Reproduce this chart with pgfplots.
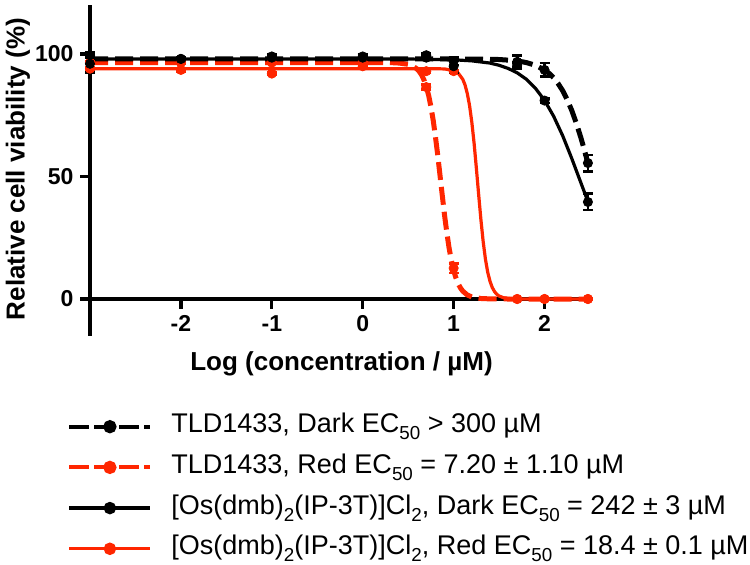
\documentclass[border=0pt]{standalone}
\usepackage{fontspec}
\setmainfont{Liberation Sans}
\usepackage{pgfplots}
\usepackage{pgfplotstable}
\pgfplotsset{compat=1.18}
\definecolor{gpred}{RGB}{255,38,0}
\newcommand\sub[1]{\raisebox{-3.6pt}{\fontsize{9.4}{9.4}\selectfont #1}}

% data points: x = log10(concentration / uM), y = viability, e = error
\pgfplotstableread{
x y e
-3 99.5 1.0
-2 98.0 0.8
-1 99.0 0.8
0 99.0 0.8
0.699 98.5 0.8
1 97.0 1.5
1.699 96.8 2.7
2 93.5 2.8
2.477 55.5 3.3
}\tlddarkpts
\pgfplotstableread{
x y e
-3 96.0 3.5
-2 98.0 0.8
-1 98.5 0.8
0 98.5 0.8
0.699 99.5 0.8
1 95.0 2.5
1.699 95.5 1.0
2 81.0 1.0
2.477 39.6 3.3
}\osdarkpts
\pgfplotstableread{
x y e
-3 96.5 0.5
-2 96.5 0.5
-1 96.5 0.5
0 96.5 0.5
0.699 86.5 1.0
1 12.6 2.0
1.699 0 0.3
2 0 0.3
2.477 0 0.3
}\tldredpts
\pgfplotstableread{
x y e
-3 94.0 0.5
-2 93.5 0.5
-1 92.0 0.5
0 95.0 0.5
0.699 93.0 0.5
1 93.0 0.5
1.699 0 0.3
2 0 0.3
2.477 0 0.3
}\osredpts

% fitted curves
\pgfplotstableread{
x y
-3 98.0
0 98.0
1.0 97.99
1.3 97.9
1.5 97.75
1.6 97.5
1.7 97.2
1.8 96.5
1.9 95.4
2.0 93.5
2.05 92.1
2.1 90.3
2.15 87.9
2.2 85.0
2.25 81.3
2.3 76.9
2.35 71.7
2.4 65.8
2.44 60.6
2.477 55.5
}\tlddarkfit
\pgfplotstableread{
x y
-3 98.0
0 97.99
0.5 97.96
1.0 97.65
1.2 97.2
1.4 96.3
1.5 95.4
1.6 94.1
1.7 92.3
1.8 89.7
1.9 86.0
2.0 81.1
2.1 74.6
2.2 66.6
2.3 57.3
2.4 47.4
2.477 39.8
}\osdarkfit
\pgfplotstableread{
x y
-3 96.5
0 96.5
0.3 96.5
0.4 96.3
0.5 95.8
0.55 95.1
0.6 93.8
0.625 92.7
0.65 91.3
0.675 89.3
0.7 86.5
0.725 83.1
0.75 78.5
0.775 73.0
0.8 66.2
0.825 58.7
0.85 50.5
0.875 42.3
0.9 34.2
0.925 27.1
0.95 20.8
0.975 15.8
1.0 11.7
1.025 8.62
1.05 6.24
1.075 4.53
1.1 3.24
1.15 1.65
1.2 0.83
1.3 0.21
1.4 0.05
1.6 0
2.477 0
}\tldredfit
\pgfplotstableread{
x y
-3 94.0
0.5 94.0
0.8 94.0
0.9 93.9
1.0 93.3
1.05 92.2
1.1 89.7
1.125 87.4
1.15 83.9
1.175 79.0
1.2 72.2
1.225 63.6
1.25 53.4
1.275 42.7
1.3 32.4
1.325 23.4
1.35 16.2
1.375 10.9
1.4 7.22
1.425 4.69
1.45 3.01
1.475 1.92
1.5 1.22
1.55 0.49
1.6 0.2
1.7 0.03
2.477 0
}\osredfit

\begin{document}
\begin{tikzpicture}[x=1pt,y=1pt]
\useasboundingbox (0,0) rectangle (375,282);
\begin{axis}[
  at={(45pt,114.125pt)}, anchor=south west,
  scale only axis, width=250pt, height=165.375pt,
  xmin=-3, xmax=2.5, ymin=-15, ymax=120,
  clip=false,
  axis x line=middle, axis y line=left,
  axis line style={line width=1.6pt, -},
  hide obscured x ticks=false, hide obscured y ticks=false,
  xtick={-2,-1,0,1,2}, ytick={0,50,100},
  minor tick num=0,
  tick align=outside, major tick length=4.75pt,
  tick style={line width=1.6pt, black},
  /pgf/number format/assume math mode=true,
  ticklabel style={font=\fontsize{11.5}{13}\selectfont\bfseries},
  xlabel={Log (concentration / µM)},
  ylabel={Relative cell viability (\%)},
  xlabel style={at={(axis description cs:0.503,-0.1057)}, anchor=base, font=\fontsize{13}{15}\selectfont\bfseries},
  ylabel style={at={(axis description cs:-0.131,0.504)}, anchor=base, rotate=0, font=\fontsize{13}{15}\selectfont\bfseries},
  legend style={at={(axis description cs:-0.046,-0.2314)}, anchor=north west, draw=none, fill=none,
    inner sep=0pt, column sep=9.5pt, row sep=6.35pt,
    font=\fontsize{13.5}{16}\selectfont,
    nodes={inner sep=0pt, text height=10pt, text depth=4pt}},
  legend cell align=left,
  legend image code/.code={\draw[mark repeat=2,mark phase=2,#1] plot coordinates {(0pt,0pt) (20.25pt,0pt) (40.5pt,0pt)};},
]
% legend entries
\addlegendimage{black, line width=2pt, dash pattern=on 10pt off 2.5pt, mark=*, mark size=2.3pt, mark options={solid}}
\addlegendentry{TLD1433, Dark EC\sub{50} > 300 µM}
\addlegendimage{gpred, line width=2pt, dash pattern=on 10pt off 2.5pt, mark=*, mark size=2.3pt, mark options={solid}}
\addlegendentry{TLD1433, Red EC\sub{50} = 7.20 ± 1.10 µM}
\addlegendimage{black, line width=1.6pt, mark=*, mark size=2.3pt}
\addlegendentry{[Os(dmb)\sub{2}(IP-3T)]Cl\sub{2}, Dark EC\sub{50} = 242 ± 3 µM}
\addlegendimage{gpred, line width=1.6pt, mark=*, mark size=2.3pt}
\addlegendentry{[Os(dmb)\sub{2}(IP-3T)]Cl\sub{2}, Red EC\sub{50} = 18.4 ± 0.1 µM}

% curves
\addplot[forget plot, gpred, line width=1.6pt, mark=none] table[x=x,y=y] {\osredfit};
\addplot[forget plot, gpred, line width=2.5pt, dash pattern=on 9pt off 3.5pt, mark=none] table[x=x,y=y] {\tldredfit};
\addplot[forget plot, black, line width=1.6pt, mark=none] table[x=x,y=y] {\osdarkfit};
\addplot[forget plot, black, line width=2.5pt, dash pattern=on 9pt off 3.5pt, mark=none] table[x=x,y=y] {\tlddarkfit};

% points
\addplot[forget plot, only marks, mark=*, mark size=2.3pt, gpred,
  error bars/.cd, y dir=both, y explicit,
  error bar style={line width=1.4pt, gpred},
  error mark options={rotate=90, mark size=2.5pt, line width=1.4pt, gpred}]
  table[x=x,y=y,y error=e] {\osredpts};
\addplot[forget plot, only marks, mark=*, mark size=2.3pt, gpred,
  error bars/.cd, y dir=both, y explicit,
  error bar style={line width=1.4pt, gpred},
  error mark options={rotate=90, mark size=2.5pt, line width=1.4pt, gpred}]
  table[x=x,y=y,y error=e] {\tldredpts};
\addplot[forget plot, only marks, mark=*, mark size=2.3pt, black,
  error bars/.cd, y dir=both, y explicit,
  error bar style={line width=1.4pt, black},
  error mark options={rotate=90, mark size=2.5pt, line width=1.4pt, black}]
  table[x=x,y=y,y error=e] {\osdarkpts};
\addplot[forget plot, only marks, mark=*, mark size=2.3pt, black,
  error bars/.cd, y dir=both, y explicit,
  error bar style={line width=1.4pt, black},
  error mark options={rotate=90, mark size=2.5pt, line width=1.4pt, black}]
  table[x=x,y=y,y error=e] {\tlddarkpts};
\end{axis}
\end{tikzpicture}
\end{document}
